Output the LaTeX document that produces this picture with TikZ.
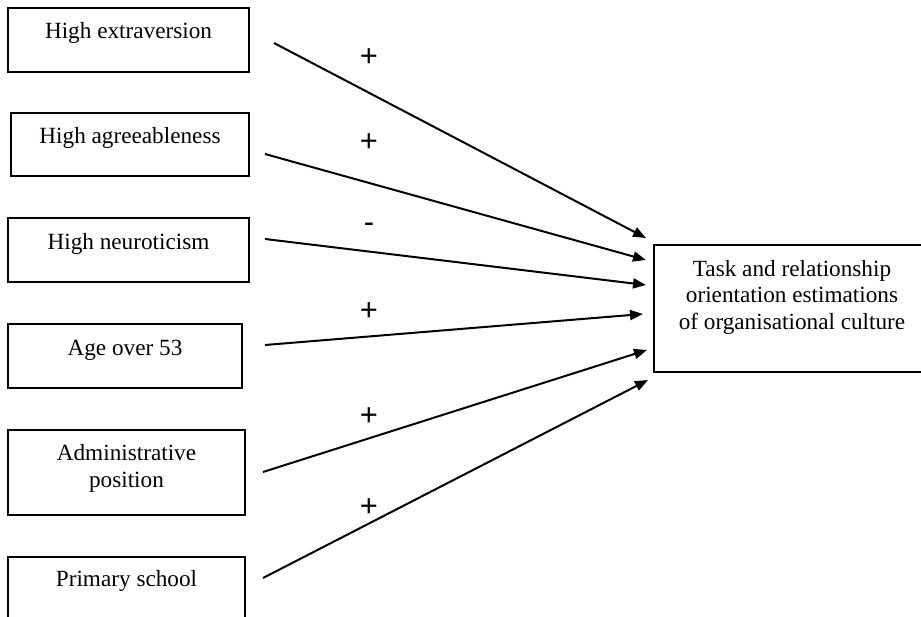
\documentclass[tikz,border=0pt]{standalone}
\usepackage{fontspec}
\setmainfont{Liberation Serif}
\newfontfamily\signfont{Liberation Sans}
\usetikzlibrary{arrows.meta}
\begin{document}
\begin{tikzpicture}[x=1bp,y=-1bp,
  factor/.style={draw,line width=1.7bp,inner sep=0pt},
  boxtext/.style={anchor=base,font=\fontsize{23.3}{26.5}\selectfont,align=center,inner sep=0pt},
  sign/.style={font=\signfont\fontsize{31}{31}\selectfont,inner sep=0pt},
  effect/.style={line width=2bp,-{Triangle[length=13bp,width=10bp]}}]
\useasboundingbox (0,0) rectangle (921,617);
\clip (0,0) rectangle (921,617);
\fill[white] (0,0) rectangle (921,617);

% predictor boxes
\node[factor,minimum width=241bp,minimum height=64bp] (b1) at (128.5,40) {};
\node[factor,minimum width=238bp,minimum height=63bp] (b2) at (130,144.5) {};
\node[factor,minimum width=241bp,minimum height=64bp] (b3) at (128.5,250) {};
\node[factor,minimum width=234bp,minimum height=64bp] (b4) at (125,356) {};
\node[factor,minimum width=237bp,minimum height=85bp] (b5) at (126.5,472.5) {};
\node[factor,minimum width=237bp,minimum height=66bp] (b6) at (126.5,590) {};

% labels, placed on the baseline of their last line
\node[boxtext] (t1) at ([yshift=-31bp]b1.north) {High extraversion};
\node[boxtext] (t2) at ([yshift=-31bp]b2.north) {High agreeableness};
\node[boxtext] (t3) at ([yshift=-32bp]b3.north) {High neuroticism};
\node[boxtext] (t4) at ([yshift=-32bp]b4.north) {Age over 53};
\node[boxtext] (t5) at ([yshift=-58bp]b5.north) {Administrative\\position};
\node[boxtext] (t6) at ([yshift=-30bp]b6.north) {Primary school};

% outcome box
\node[factor,minimum width=276bp,minimum height=127bp] (out) at (792,308.5) {};
\node[boxtext] (tout) at ([yshift=-85bp]out.north) {Task and relationship\\orientation estimations\\of organisational culture};

% connector ends
\coordinate (s1) at (274,43);  \coordinate (e1) at (646,238);
\coordinate (s2) at (265,154); \coordinate (e2) at (646,260);
\coordinate (s3) at (265,239); \coordinate (e3) at (646,285);
\coordinate (s4) at (265,345); \coordinate (e4) at (643,314);
\coordinate (s5) at (263,472); \coordinate (e5) at (647,350);
\coordinate (s6) at (263,578); \coordinate (e6) at (648,380);

\draw[effect] (s1) -- (e1);
\draw[effect] (s2) -- (e2);
\draw[effect] (s3) -- (e3);
\draw[effect] (s4) -- (e4);
\draw[effect] (s5) -- (e5);
\draw[effect] (s6) -- (e6);

% signs of the effects
\node[sign] (p1) at (369,58) {+};
\node[sign] (p2) at (369,143) {+};
\node[sign] (p3) at (369,228) {-};
\node[sign] (p4) at (369,312) {+};
\node[sign] (p5) at (369,417) {+};
\node[sign] (p6) at (369,508) {+};
\end{tikzpicture}
\end{document}
